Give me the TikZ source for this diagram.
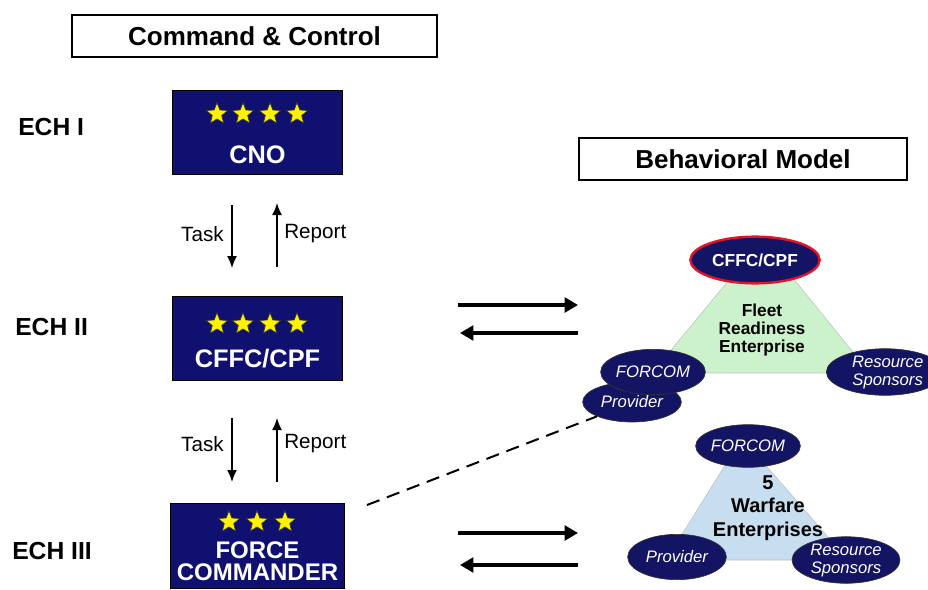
\documentclass[tikz,border=0pt]{standalone}
\usepackage{fontspec}
\setmainfont{Liberation Sans}
\usetikzlibrary{shapes.geometric,arrows.meta}
\definecolor{ranknavy}{RGB}{16,16,112}
\definecolor{ovalnavy}{RGB}{20,20,100}
\definecolor{ovalred}{RGB}{225,20,40}
\definecolor{fleetgreen}{RGB}{204,242,204}
\definecolor{warblue}{RGB}{198,222,240}

\begin{document}
\begin{tikzpicture}[x=0.75pt,y=0.75pt,yscale=-1,xscale=1,
  headbox/.style={draw,line width=1.5pt,fill=white,minimum height=31.5pt,inner sep=0pt,font=\bfseries\fontsize{19.5}{22}\selectfont},
  echtext/.style={font=\bfseries\fontsize{18.5}{22}\selectfont,inner sep=0pt},
  rankbox/.style={draw=black,line width=0.75pt,fill=ranknavy,inner sep=0pt},
  ranktext/.style={text=white,align=center,inner sep=0pt},
  rankstar/.style={star,star points=5,star point ratio=2.3,fill=yellow,draw=black!80,line width=0.5pt,minimum size=17pt,inner sep=0pt},
  flowtext/.style={font=\fontsize{15.5}{17}\selectfont,inner sep=0pt},
  thinarrow/.style={-{Latex[length=9pt,width=7.5pt]},line width=1.2pt},
  thickarrow/.style={-{Triangle[length=10pt,width=11pt]},line width=3pt},
  roleoval/.style={ellipse,draw=black!80,line width=0.5pt,fill=ovalnavy,text=white,inner sep=0pt,font=\itshape\fontsize{12.5}{13.5}\selectfont,align=center},
  enttext/.style={align=center,inner sep=0pt},
  dashline/.style={dash pattern=on 10pt off 6pt,line width=1.5pt}
]
\useasboundingbox (0,0) rectangle (928,589);

% headings
\node[headbox,minimum width=274pt] (cchead) at (254.5,36) {Command \& Control};
\node[headbox,minimum width=246pt] (bmhead) at (743,159) {Behavioral Model};

% echelons
\node[echtext,anchor=west] (ech1) at (18,127) {ECH I};
\node[echtext,anchor=west] (ech2) at (15,327) {ECH II};
\node[echtext,anchor=west] (ech3) at (12,551) {ECH III};

% command boxes
\node[rankbox,minimum width=128pt,minimum height=63pt] (cno) at (257.5,132) {};
\foreach \sx [count=\i] in {217,243,270,297}
  \node[rankstar] (cnostar\i) at (\sx,114) {};
\node[ranktext,font=\bfseries\fontsize{19}{20}\selectfont] (cnolabel) at (257.5,155) {CNO};

\node[rankbox,minimum width=128pt,minimum height=63pt] (cffc) at (257.5,338) {};
\foreach \sx [count=\i] in {217,243,270,297}
  \node[rankstar] (cffcstar\i) at (\sx,324) {};
\node[ranktext,font=\bfseries\fontsize{19}{20}\selectfont] (cffclabel) at (257.5,359) {CFFC/CPF};

\node[rankbox,minimum width=131pt,minimum height=64pt] (fc) at (257.5,546) {};
\foreach \sx [count=\i] in {229,257,285}
  \node[rankstar] (fcstar\i) at (\sx,522) {};
\node[ranktext,font=\bfseries\fontsize{18}{16.5}\selectfont] (fclabel) at (257.5,561) {FORCE\\COMMANDER};

% task / report
\coordinate (taskAtop) at (232,205);
\coordinate (taskAbot) at (232,268);
\coordinate (repAbot) at (277,267);
\coordinate (repAtop) at (277,203);
\draw[thinarrow] (taskAtop) -- (taskAbot);
\draw[thinarrow] (repAbot) -- (repAtop);
\node[flowtext,anchor=east] (taskA) at (224,234) {Task};
\node[flowtext,anchor=west] (repA) at (284,234) {Report};

\coordinate (taskBtop) at (232,418);
\coordinate (taskBbot) at (232,482);
\coordinate (repBbot) at (277,482);
\coordinate (repBtop) at (277,418);
\draw[thinarrow] (taskBtop) -- (taskBbot);
\draw[thinarrow] (repBbot) -- (repBtop);
\node[flowtext,anchor=east] (taskB) at (224,444) {Task};
\node[flowtext,anchor=west] (repB) at (284,444) {Report};

% fleet readiness enterprise
\fill[fleetgreen,draw=black!25,line width=0.4pt] (762,240) -- (652,373) -- (870,373) -- cycle;
\node[enttext,font=\bfseries\fontsize{13}{13.5}\selectfont] (fleet) at (762,330) {Fleet\\Readiness\\Enterprise};
\node[roleoval,draw=ovalred,line width=1.8pt,minimum width=97pt,minimum height=35pt,font=\bfseries\fontsize{13}{14}\selectfont] (cffcoval) at (755,260) {CFFC/CPF};
\node[roleoval,minimum width=74pt,minimum height=30pt] (prov1) at (632,402) {Provider};
\node[roleoval,minimum width=74pt,minimum height=34pt] (forcom1) at (653,372) {FORCOM};
\node[roleoval,minimum width=88pt,minimum height=31.5pt] (res1) at (885,372) {\hspace*{4pt}Resource\\\hspace*{4pt}Sponsors};

% warfare enterprises
\fill[warblue,draw=black!25,line width=0.4pt] (742,438) -- (666,560) -- (848,560) -- cycle;
\node[enttext,font=\bfseries\fontsize{15}{17.5}\selectfont] (warfare) at (768,508) {5\\Warfare\\Enterprises};
\node[roleoval,minimum width=68pt,minimum height=32pt] (forcom2) at (748,446) {FORCOM};
\node[roleoval,minimum width=74pt,minimum height=34pt] (prov2) at (677,557) {Provider};
\node[roleoval,minimum width=81pt,minimum height=33pt] (res2) at (846,560) {Resource\\Sponsors};

% links
\coordinate (upRa) at (458,305);
\coordinate (upRb) at (578,305);
\coordinate (upLa) at (578,333);
\coordinate (upLb) at (460,333);
\draw[thickarrow] (upRa) -- (upRb);
\draw[thickarrow] (upLa) -- (upLb);
\coordinate (loRa) at (458,533);
\coordinate (loRb) at (578,533);
\coordinate (loLa) at (578,565);
\coordinate (loLb) at (460,565);
\draw[thickarrow] (loRa) -- (loRb);
\draw[thickarrow] (loLa) -- (loLb);

\coordinate (dashstart) at (367,505);
\draw[dashline] (dashstart) -- (prov1.south west);
\end{tikzpicture}
\end{document}
